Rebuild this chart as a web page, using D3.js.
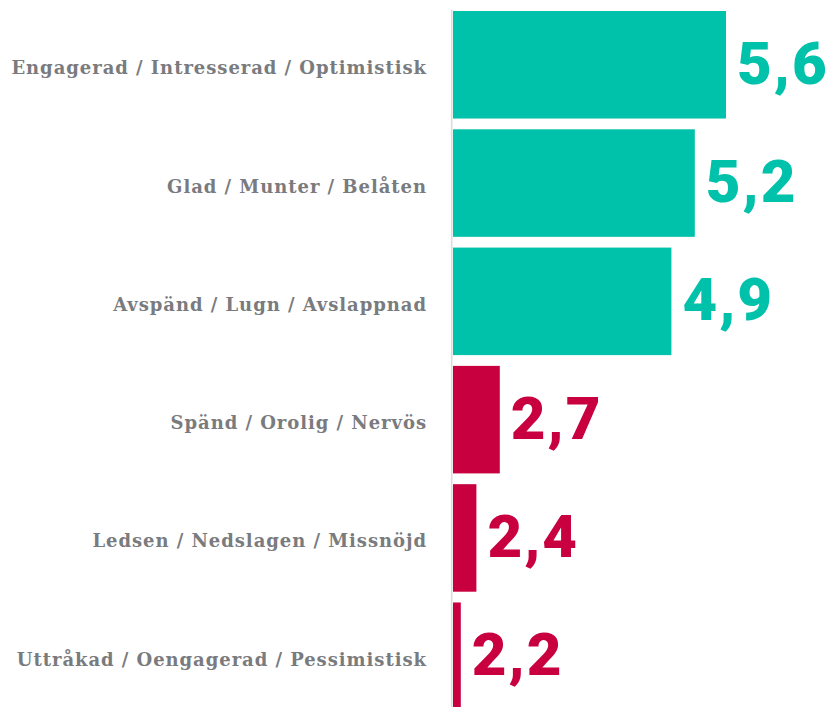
<!DOCTYPE html>
<html>
<head>
<meta charset="utf-8">
<script src="https://cdn.jsdelivr.net/npm/d3@7"></script>
<style>
  html, body { margin: 0; padding: 0; background: #fff; }
  svg { display: block; }
</style>
</head>
<body>
<div id="chart"></div>
<script>
// categories, top to bottom
var categories = [
  'Engagerad / Intresserad / Optimistisk',
  'Glad / Munter / Belåten',
  'Avspänd / Lugn / Avslappnad',
  'Spänd / Orolig / Nervös',
  'Ledsen / Nedslagen / Missnöjd',
  'Uttråkad / Oengagerad / Pessimistisk'
];
var values = [5.6, 5.2, 4.9, 2.7, 2.4, 2.2];
var groups = ['pos', 'pos', 'pos', 'neg', 'neg', 'neg'];

var W = 828, H = 707;
var colors = { pos: '#00c1aa', neg: '#c80040' };

var svg = d3.select('#chart').append('svg').attr('width', W).attr('height', H);

// axis does not start at zero, bars are measured from ~2.1
var x = d3.scaleLinear().domain([2.1, 5.6]).range([453, 726]);
var y = d3.scaleBand().domain(categories).range([11, 710]).paddingInner(0.091).paddingOuter(0);

var data = categories.map(function(c, i){ return { cat: c, val: values[i], grp: groups[i] }; });

svg.append('line')
  .attr('x1', 451.7).attr('x2', 451.7).attr('y1', 10).attr('y2', H)
  .attr('stroke', '#dcdcdc').attr('stroke-width', 1.6);

svg.selectAll('rect.bar').data(data).join('rect').attr('class', 'bar')
  .attr('x', x.range()[0])
  .attr('y', function(d){ return y(d.cat); })
  .attr('width', function(d){ return x(d.val) - x.range()[0]; })
  .attr('height', y.bandwidth())
  .attr('fill', function(d){ return colors[d.grp]; });

svg.selectAll('text.cat').data(data).join('text').attr('class', 'cat')
  .attr('x', 427)
  .attr('y', function(d){ return y(d.cat) + y.bandwidth() / 2 + 9.5; })
  .attr('text-anchor', 'end')
  .attr('font-family', '"DejaVu Serif", serif')
  .attr('font-size', '18px')
  .attr('font-weight', 'bold')
  .attr('letter-spacing', '0.95px')
  .attr('fill', '#7a7b7e')
  .text(function(d){ return d.cat; });

svg.selectAll('text.val').data(data).join('text').attr('class', 'val')
  .attr('x', function(d){ return x(d.val) + 11; })
  .attr('y', function(d){ return y(d.cat) + y.bandwidth() / 2 + 19; })
  .attr('font-family', 'Roboto, sans-serif')
  .attr('font-size', '60px')
  .attr('font-weight', 900)
  .attr('letter-spacing', '2px')
  .attr('fill', function(d){ return colors[d.grp]; })
  .text(function(d){ return d3.format('.1f')(d.val).replace('.', ','); });
</script>
</body>
</html>
